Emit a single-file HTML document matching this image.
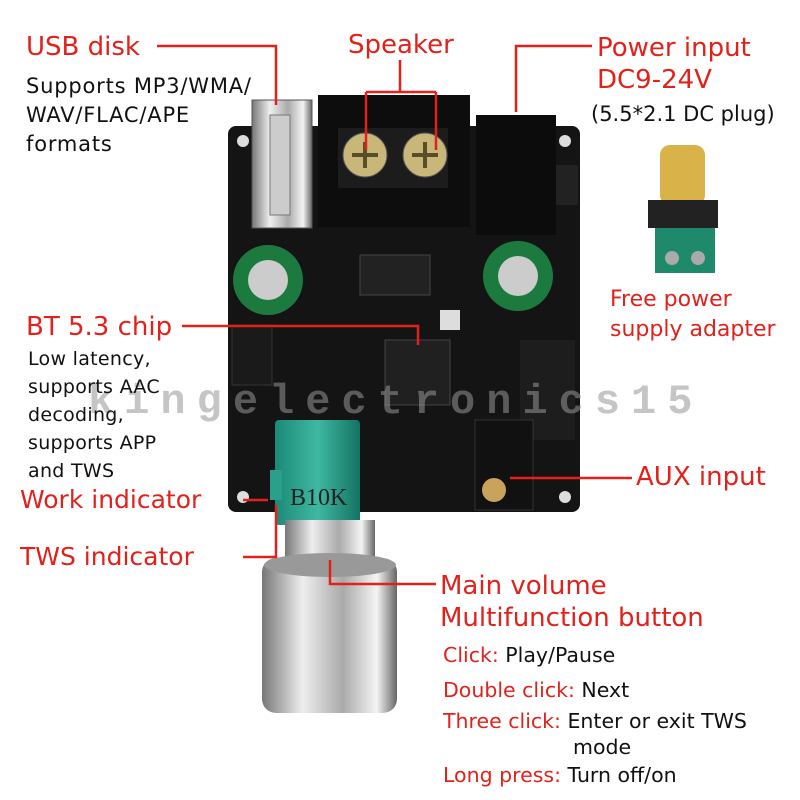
<!DOCTYPE html>
<html><head><meta charset="utf-8"><style>
body{margin:0;width:800px;height:800px;background:#fff;position:relative;overflow:hidden;font-family:"DejaVu Sans","Liberation Sans",sans-serif}
.t{position:absolute;white-space:nowrap}
.r{color:#e3211b}
.b{color:#111}
</style></head><body>
<svg width="800" height="800" style="position:absolute;left:0;top:0">
<defs>
<linearGradient id="sil" x1="0" x2="1"><stop offset="0" stop-color="#777"/><stop offset=".3" stop-color="#eee"/><stop offset=".6" stop-color="#aaa"/><stop offset=".85" stop-color="#f4f4f4"/><stop offset="1" stop-color="#666"/></linearGradient>
<linearGradient id="grn" x1="0" x2="1"><stop offset="0" stop-color="#1b8a78"/><stop offset=".5" stop-color="#3fb8a2"/><stop offset="1" stop-color="#157363"/></linearGradient>
</defs>
<rect x="228" y="126" width="352" height="386" rx="8" fill="#141414"/>
<circle cx="243" cy="141" r="6" fill="#ddd"/><circle cx="565" cy="141" r="6" fill="#ddd"/>
<circle cx="243" cy="497" r="6" fill="#ddd"/><circle cx="565" cy="497" r="6" fill="#ddd"/>
<rect x="252" y="100" width="60" height="128" fill="url(#sil)" stroke="#555"/>
<rect x="270" y="115" width="20" height="100" fill="#ccc" stroke="#777"/>
<rect x="318" y="95" width="152" height="132" fill="#0d0d0d"/>
<rect x="338" y="128" width="110" height="60" fill="#1c1c1c"/>
<circle cx="365" cy="155" r="22" fill="#c9b77a" stroke="#555"/><circle cx="425" cy="155" r="22" fill="#c9b77a" stroke="#555"/>
<path d="M352 155h26M365 142v26M412 155h26M425 142v26" stroke="#5a4e2a" stroke-width="4"/>
<rect x="476" y="115" width="80" height="120" fill="#0c0c0c"/>
<rect x="556" y="165" width="22" height="40" fill="#222"/>
<circle cx="268" cy="280" r="35" fill="#1c7a3e"/><circle cx="268" cy="280" r="20" fill="#ccc"/>
<circle cx="518" cy="276" r="35" fill="#1c7a3e"/><circle cx="518" cy="276" r="20" fill="#ccc"/>
<rect x="360" y="255" width="70" height="40" fill="#222" stroke="#444"/>
<rect x="385" y="340" width="65" height="65" fill="#202020" stroke="#444"/>
<rect x="232" y="325" width="40" height="60" fill="#1a1a1a" stroke="#333"/>
<rect x="440" y="310" width="20" height="20" fill="#ddd"/>
<path d="M520 340h55v100h-55z" fill="#1d1d1d"/>
<rect x="475" y="420" width="58" height="90" fill="#111" stroke="#333"/>
<circle cx="494" cy="490" r="12" fill="#caa35a"/>
<rect x="275" y="420" width="85" height="105" rx="4" fill="url(#grn)"/>
<rect x="270" y="470" width="12" height="30" fill="#2aa08a"/>
<rect x="285" y="520" width="90" height="40" fill="url(#sil)"/>
<rect x="262" y="558" width="135" height="155" rx="14" fill="url(#sil)"/>
<ellipse cx="330" cy="565" rx="66" ry="12" fill="#999"/>
<rect x="660" y="145" width="45" height="60" rx="10" fill="#d9b34a"/>
<rect x="648" y="200" width="70" height="28" fill="#222"/>
<rect x="655" y="228" width="60" height="45" fill="#1f8a6b"/>
<circle cx="672" cy="258" r="7" fill="#aaa"/><circle cx="698" cy="258" r="7" fill="#aaa"/>
<g stroke="#e3211b" stroke-width="2.5" fill="none">
<path d="M157 46H276V105"/>
<path d="M400 60V92M366 92H436M366 92V150M436 92V150"/>
<path d="M592 46H516V112"/>
<path d="M182 326H418V345"/>
<path d="M632 478H510"/>
<path d="M243 500H268"/>
<path d="M243 557H276V505"/>
<path d="M436 584H330V560"/>
</g>
</svg>
<div class="t" style="left:88px;top:378px;font:bold 42px 'Liberation Mono',monospace;color:rgba(150,150,150,.55);letter-spacing:11px">kingelectronics15</div>
<div class="t r" style="left:26px;top:32px;font-size:26px">USB disk</div>
<div class="t b" style="left:26px;top:72px;font-size:21px;line-height:29px;letter-spacing:.8px">Supports MP3/WMA/<br>WAV/FLAC/APE<br>formats</div>
<div class="t r" style="left:348px;top:30px;font-size:26px">Speaker</div>
<div class="t r" style="left:597px;top:32px;font-size:26px;line-height:32px">Power input<br>DC9-24V</div>
<div class="t b" style="left:591px;top:102px;font-size:21px">(5.5*2.1 DC plug)</div>
<div class="t r" style="left:610px;top:285px;font-size:22px;line-height:30px">Free power<br>supply adapter</div>
<div class="t r" style="left:26px;top:312px;font-size:26px">BT 5.3 chip</div>
<div class="t b" style="left:28px;top:345px;font-size:19px;line-height:28px;letter-spacing:.3px">Low latency,<br>supports AAC<br>decoding,<br>supports APP<br>and TWS</div>
<div class="t r" style="left:636px;top:462px;font-size:26px">AUX input</div>
<div class="t r" style="left:20px;top:485px;font-size:25px">Work indicator</div>
<div class="t r" style="left:20px;top:542px;font-size:25px">TWS indicator</div>
<div class="t" style="left:290px;top:485px;font:24px 'Liberation Serif',serif;color:#222">B10K</div>
<div class="t r" style="left:440px;top:570px;font-size:26px;line-height:32px">Main volume<br>Multifunction button</div>
<div class="t" style="left:443px;top:638px;font-size:20.5px;line-height:35px"><span class="r">Click:</span> <span class="b">Play/Pause</span><br><span class="r">Double click:</span> <span class="b">Next</span></div>
<div class="t" style="left:443px;top:707px;font-size:20.5px;line-height:28px"><span class="r">Three click:</span> <span class="b">Enter or exit TWS</span></div>
<div class="t b" style="left:573px;top:735px;font-size:20.5px">mode</div>
<div class="t" style="left:443px;top:763px;font-size:20.5px"><span class="r">Long press:</span> <span class="b">Turn off/on</span></div>
</body></html>
